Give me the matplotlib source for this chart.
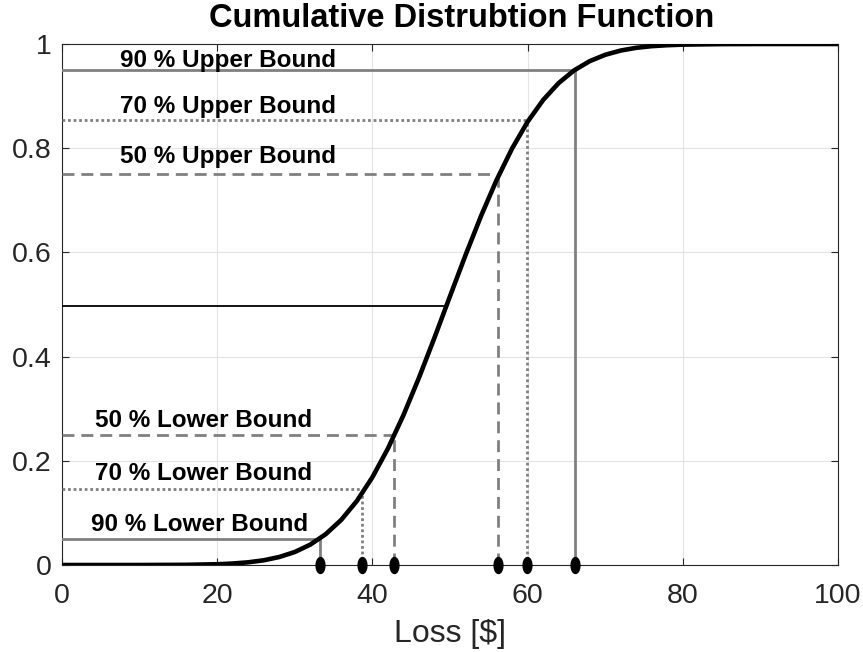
import numpy as np
import matplotlib
matplotlib.use("Agg")
import matplotlib.pyplot as plt

plt.rcParams['font.family'] = ['Liberation Sans', 'DejaVu Sans']

# CDF curve
cdf_x = [0, 10, 16, 20, 22, 24, 26, 28, 30, 32, 34, 36, 38, 40, 42, 44, 46, 48, 50,
         52, 54, 56, 58, 60, 62, 64, 66, 68, 70, 72, 74, 76, 78, 80, 85, 90, 100]
cdf_y = [0.0, 0.00004, 0.0004, 0.0015, 0.0029, 0.0052, 0.0091, 0.0154, 0.0250, 0.0392,
         0.0594, 0.0869, 0.1230, 0.1685, 0.2236, 0.2877, 0.3594, 0.4364, 0.5160,
         0.5948, 0.6700, 0.7389, 0.7995, 0.8508, 0.8925, 0.9251, 0.9495, 0.9671,
         0.9793, 0.9875, 0.9927, 0.9959, 0.9977, 0.9988, 0.9998, 1.0, 1.0]

levels = ["90", "70", "50"]
lower_x = [33.2, 38.7, 42.8]
lower_p = [0.05, 0.145, 0.25]
upper_x = [66.1, 59.9, 56.2]
upper_p = [0.95, 0.855, 0.75]
median_x = 49.2
median_p = 0.497

gray = '#808080'
styles = ['-', (0, (1, 1)), (0, (4.3, 2.5))]

fig = plt.figure(figsize=(8.63, 6.52), dpi=100)
ax = fig.add_axes([0.0718, 0.1334, 0.8993, 0.7991])

for lvl, lx, lp, ux, up, ls in zip(levels, lower_x, lower_p, upper_x, upper_p, styles):
    ax.plot([0, lx], [lp, lp], color=gray, lw=2, ls=ls, zorder=3)
    ax.plot([lx, lx], [0, lp], color=gray, lw=2, ls=ls, zorder=3)
    ax.plot([0, ux], [up, up], color=gray, lw=2, ls=ls, zorder=3)
    ax.plot([ux, ux], [0, up], color=gray, lw=2, ls=ls, zorder=3)

ax.plot([0, median_x], [median_p, median_p], color='black', lw=1.3, zorder=3)
ax.plot(cdf_x, cdf_y, color='black', lw=3.3, zorder=4, solid_capstyle='butt',
        solid_joinstyle='round')

# elliptical markers
t = np.linspace(0, 2 * np.pi, 40)
ell = np.column_stack([0.55 * np.cos(t), np.sin(t)])
mx = lower_x + upper_x
ax.plot(mx, [0] * len(mx), ls='none', marker=ell, markersize=11.5, color='black',
        zorder=5, clip_on=False)

txt_kw = dict(fontsize=17.5, fontweight='bold', ha='left', va='bottom', zorder=6)
ax.text(7.5, 0.947, "90 % Upper Bound", **txt_kw)
ax.text(7.5, 0.858, "70 % Upper Bound", **txt_kw)
ax.text(7.5, 0.762, "50 % Upper Bound", **txt_kw)
ax.text(4.3, 0.255, "50 % Lower Bound", **txt_kw)
ax.text(4.3, 0.153, "70 % Lower Bound", **txt_kw)
ax.text(3.8, 0.055, "90 % Lower Bound", **txt_kw)

ax.set_xlim(0, 100)
ax.set_ylim(0, 1)
ax.set_xticks([0, 20, 40, 60, 80, 100])
ax.set_yticks([0, 0.2, 0.4, 0.6, 0.8, 1])
ax.set_yticklabels(['0', '0.2', '0.4', '0.6', '0.8', '1'])
ax.grid(True, color='#e3e3e3', lw=0.8, zorder=0)
ax.set_axisbelow(True)
ax.tick_params(direction='in', length=5, width=0.8, labelsize=20.5, colors='#262626',
               top=True, right=True)
ax.tick_params(axis='x', pad=13)
ax.tick_params(axis='y', pad=7.5)
for s in ax.spines.values():
    s.set_color('#262626')
    s.set_linewidth(0.8)
ax.set_xlabel('Loss [$]', fontsize=23, color='#262626', labelpad=7)
ax.set_title('Cumulative Distrubtion Function', fontsize=23.5, fontweight='bold',
             pad=12, x=0.5155)

fig.savefig('out.png', dpi=100)
